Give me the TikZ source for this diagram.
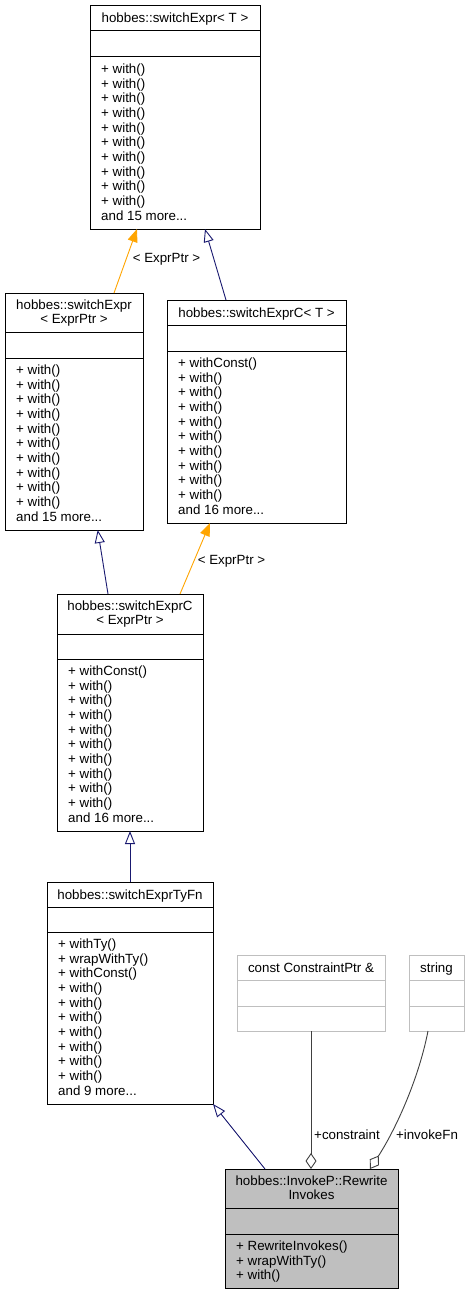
\documentclass[tikz,border=0pt]{standalone}
\usepackage{fontspec}
\setmainfont{Liberation Sans}
\usetikzlibrary{arrows.meta}
\definecolor{navy}{HTML}{191970}
\definecolor{tmplorange}{HTML}{FFA500}
\definecolor{grey25}{HTML}{404040}
\definecolor{grey75}{HTML}{BFBFBF}
\newcommand\dgfont{\fontsize{13.33}{14.67}\selectfont}
% name, l, t, r, b, d1, d2, style
\newcommand\umlbox[8]{%
  \node[#8, minimum width={#4pt-#2pt}, minimum height={#5pt-#3pt}, anchor=north west] (#1) at (#2,#3) {};
  \draw[#8, fill=none] (#2,#6) -- (#4,#6) (#2,#7) -- (#4,#7);
}
\tikzset{
  x=1pt, y=-1pt,
  cls/.style={draw=black, line width=1pt, inner sep=0pt, outer sep=0pt, fill=white},
  ext/.style={draw=grey75, line width=1pt, inner sep=0pt, outer sep=0pt, fill=white},
  main/.style={draw=black, line width=1pt, inner sep=0pt, outer sep=0pt, fill=grey75},
  ttl/.style={anchor=base, inner sep=0pt, font=\dgfont},
  meth/.style={anchor=base west, inner sep=0pt, font=\dgfont},
  lbl/.style={inner sep=0pt, font=\dgfont},
  inh/.style={draw=navy, line width=0.9pt, -{Triangle[open, length=13pt, width=10pt]}},
  tmpl/.style={draw=tmplorange, line width=0.9pt, -{Triangle[length=13pt, width=10pt, fill=tmplorange]}},
  agg/.style={draw=grey25, line width=0.9pt, -{Diamond[open, length=16pt, width=11pt]}},
}
\begin{document}
\begin{tikzpicture}
\path[use as bounding box, fill=white] (0,0) rectangle (469,1295);

% switchExpr< T >
\umlbox{se}{90}{6}{260}{229}{31}{57}{cls}
\node[ttl] (seT) at (175,23) {hobbes::switchExpr< T >};
\node[meth] (seM) at (101,73.5) {\begin{tabular}[t]{@{}l@{}}+ with()\\+ with()\\+ with()\\+ with()\\+ with()\\+ with()\\+ with()\\+ with()\\+ with()\\+ with()\\and 15 more...\end{tabular}};

% switchExpr< ExprPtr >
\umlbox{seP}{5}{293}{143}{530}{332}{358}{cls}
\node[ttl] (sePT) at (74,309) {\begin{tabular}[t]{@{}c@{}}hobbes::switchExpr\\< ExprPtr >\end{tabular}};
\node[meth] (sePM) at (16,374.5) {\begin{tabular}[t]{@{}l@{}}+ with()\\+ with()\\+ with()\\+ with()\\+ with()\\+ with()\\+ with()\\+ with()\\+ with()\\+ with()\\and 15 more...\end{tabular}};

% switchExprC< T >
\umlbox{sec}{167}{300}{346}{523}{325}{351}{cls}
\node[ttl] (secT) at (256.5,317) {hobbes::switchExprC< T >};
\node[meth] (secM) at (178,367.5) {\begin{tabular}[t]{@{}l@{}}+ withConst()\\+ with()\\+ with()\\+ with()\\+ with()\\+ with()\\+ with()\\+ with()\\+ with()\\+ with()\\and 16 more...\end{tabular}};

% switchExprC< ExprPtr >
\umlbox{secP}{57}{594}{203}{831}{634}{659}{cls}
\node[ttl] (secPT) at (130,610) {\begin{tabular}[t]{@{}c@{}}hobbes::switchExprC\\< ExprPtr >\end{tabular}};
\node[meth] (secPM) at (68,675.5) {\begin{tabular}[t]{@{}l@{}}+ withConst()\\+ with()\\+ with()\\+ with()\\+ with()\\+ with()\\+ with()\\+ with()\\+ with()\\+ with()\\and 16 more...\end{tabular}};

% switchExprTyFn
\umlbox{tyfn}{47}{882}{213}{1104}{907}{932}{cls}
\node[ttl] (tyfnT) at (130,899) {hobbes::switchExprTyFn};
\node[meth] (tyfnM) at (58,948.5) {\begin{tabular}[t]{@{}l@{}}+ withTy()\\+ wrapWithTy()\\+ withConst()\\+ with()\\+ with()\\+ with()\\+ with()\\+ with()\\+ with()\\+ with()\\and 9 more...\end{tabular}};

% const ConstraintPtr &
\umlbox{cptr}{237}{955}{385}{1031}{980}{1006}{ext}
\node[ttl] (cptrT) at (311,972) {const ConstraintPtr \&};

% string
\umlbox{str}{409}{955}{464}{1031}{980}{1006}{ext}
\node[ttl] (strT) at (436.5,972) {string};

% RewriteInvokes
\umlbox{rw}{225}{1169}{398}{1288}{1208}{1234}{main}
\node[ttl] (rwT) at (311.5,1185) {\begin{tabular}[t]{@{}c@{}}hobbes::InvokeP::Rewrite\\Invokes\end{tabular}};
\node[meth] (rwM) at (236,1250.5) {\begin{tabular}[t]{@{}l@{}}+ RewriteInvokes()\\+ wrapWithTy()\\+ with()\end{tabular}};

% connectors
\draw[tmpl] ([xshift=109pt]seP.north west) -- ([xshift=47pt]se.south west);
\node[lbl] (l1) at (166.5,259) {< ExprPtr >};
\draw[inh] ([xshift=59pt]sec.north west) -- ([xshift=115pt]se.south west);
\draw[inh] ([xshift=51pt]secP.north west) -- ([xshift=92.7pt]seP.south west);
\draw[tmpl] ([xshift=123pt]secP.north west) -- ([xshift=43pt]sec.south west);
\node[lbl] (l2) at (231.5,561) {< ExprPtr >};
\draw[inh] ([xshift=83pt]tyfn.north west) -- ([xshift=73pt]secP.south west);
\draw[inh] ([xshift=40pt]rw.north west) -- (tyfn.south east);
\draw[agg] ([xshift=74pt]cptr.south west) -- ([xshift=86pt]rw.north west);
\node[lbl] (l3) at (347,1135) {+constraint};
\draw[agg] ([xshift=19pt]str.south west) .. controls (418,1082) and (394,1132) .. ([xshift=145pt]rw.north west);
\node[lbl] (l4) at (427,1135) {+invokeFn};
\end{tikzpicture}
\end{document}
